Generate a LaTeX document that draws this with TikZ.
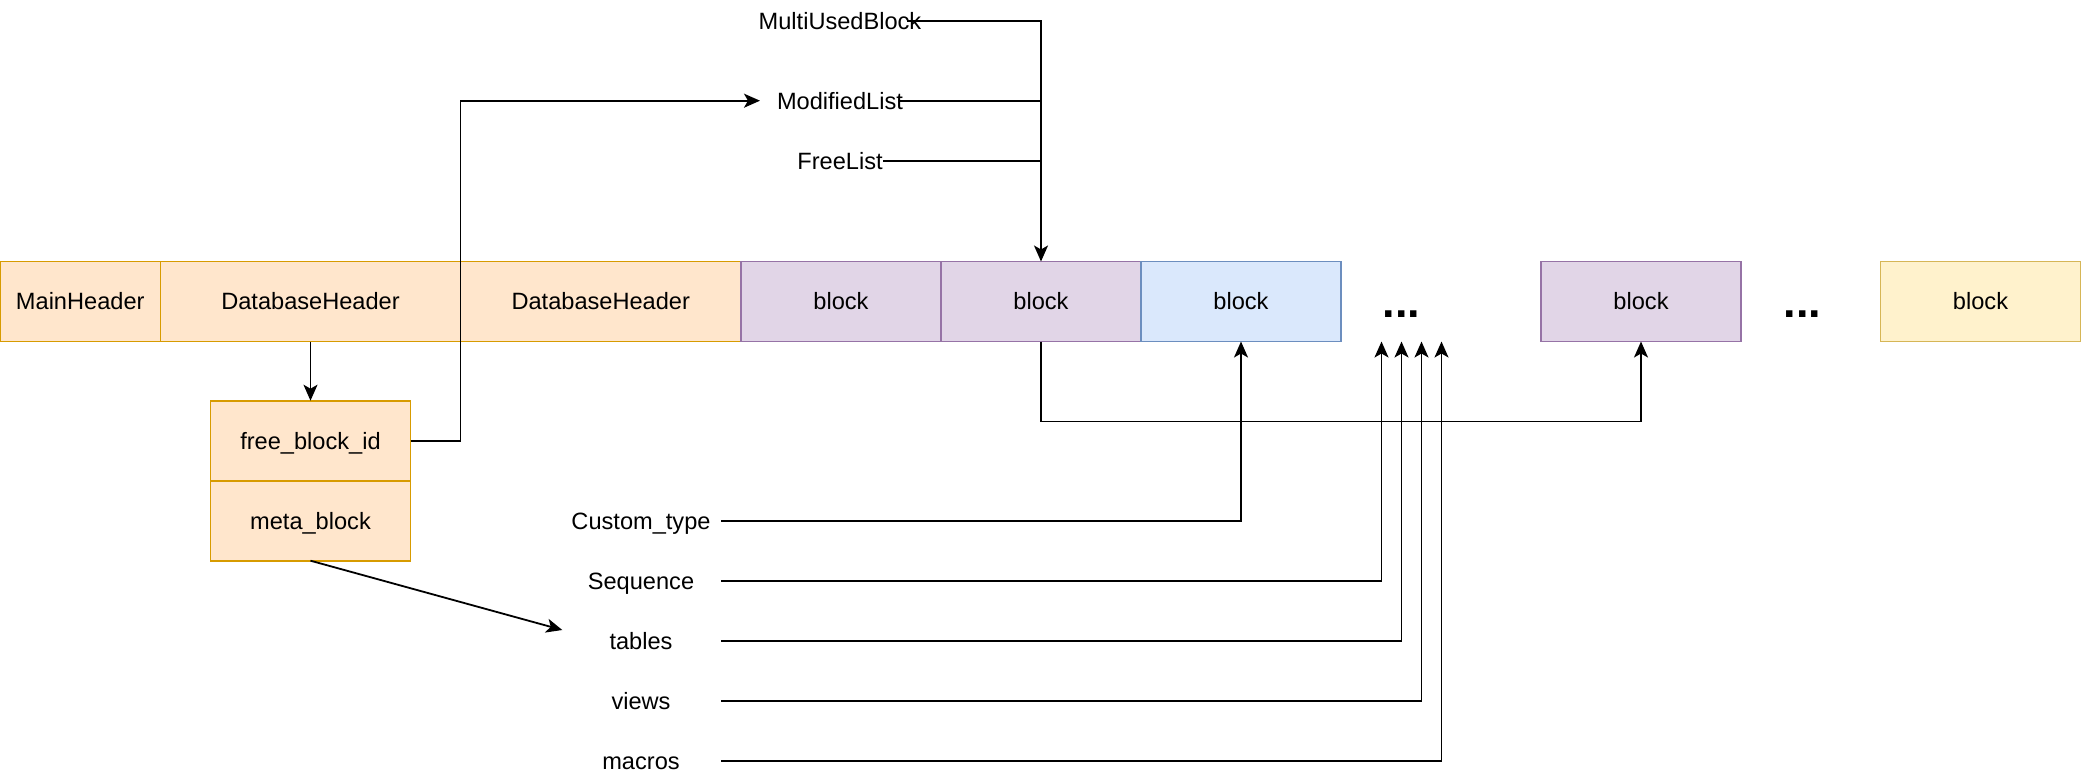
\documentclass[tikz,border=0pt]{standalone}
\usepackage{fontspec}
\setmainfont{Liberation Sans}
\usetikzlibrary{arrows.meta,calc}
\definecolor{orF}{HTML}{FFE6CC}
\definecolor{orD}{HTML}{D79B00}
\definecolor{puF}{HTML}{E1D5E7}
\definecolor{puD}{HTML}{9673A6}
\definecolor{blF}{HTML}{DAE8FC}
\definecolor{blD}{HTML}{6C8EBF}
\definecolor{yeF}{HTML}{FFF2CC}
\definecolor{yeD}{HTML}{D6B656}
\begin{document}
\begin{tikzpicture}[x=0.75pt,y=-0.75pt,
  font=\fontsize{17.7}{21}\selectfont,
  box/.style={draw, line width=1.3pt, inner sep=0pt, outer sep=0pt,
    minimum height=60pt, text height=12.67pt, text depth=0pt},
  orbox/.style={box, fill=orF, draw=orD},
  pubox/.style={box, fill=puF, draw=puD, minimum width=150pt},
  blbox/.style={box, fill=blF, draw=blD, minimum width=150pt},
  yebox/.style={box, fill=yeF, draw=yeD, minimum width=150pt},
  lbl/.style={inner sep=0pt, outer sep=0pt, minimum width=120pt,
    text height=12.67pt, text depth=0pt},
  dotsnode/.style={inner sep=0pt, outer sep=0pt, minimum width=150pt,
    minimum height=60pt, font=\fontsize{33.8}{40}\selectfont\bfseries,
    text height=24.2pt, text depth=0pt},
  ln/.style={draw, line width=1.35pt},
  arr/.style={ln, -{Stealth[length=12pt,width=10.5pt,inset=3pt]}}
]
\useasboundingbox (0,0) rectangle (2082,782);

% top row
\node[orbox, minimum width=120.4pt] (mh) at (80.25,301.5) {MainHeader};
\node[orbox, minimum width=225pt] (db1) at (310.5,301.5) {DatabaseHeader};
\node[orbox, minimum width=210.4pt] (db2) at (600.75,301.5) {DatabaseHeader};
\node[pubox] (b1) at (841,301.5) {block};
\node[pubox] (b2) at (1041,301.5) {block};
\node[blbox] (b3) at (1241,301.5) {block};
\node[dotsnode] (d1) at (1401.5,301.5) {...};
\node[pubox] (b4) at (1641,301.5) {block};
\node[dotsnode] (d2) at (1802.5,301.5) {...};
\node[yebox] (b5) at (1980.5,301.5) {block};

% header fields
\node[orbox, minimum width=150pt] (fb) at (310.5,440.7) {free\_block\_id};
\node[orbox, minimum width=150pt] (mb) at (310.5,520.7) {meta\_block};

% top labels
\node[lbl] (mub) at (840,20.7) {MultiUsedBlock};
\node[lbl] (ml) at (840,100.7) {ModifiedList};
\node[lbl] (fl) at (840,161) {FreeList};
\coordinate (mubR) at (906.7,20.7);
\coordinate (mlR) at (900,100.7);
\coordinate (flR) at (883,161);

% left labels
\node[lbl] (ct) at (641,520.7) {Custom\_type};
\node[lbl] (seq) at (641,580.7) {Sequence};
\node[lbl] (tab) at (641,640.7) {tables};
\node[lbl] (vw) at (641,700.7) {views};
\node[lbl] (mac) at (641,760.7) {macros};
\coordinate (tabIn) at (562.3,630);

% connectors
\draw[arr] (db1.south) -- (fb.north);
\draw[arr] (fb.east) -| (db1.east |- ml.west) -- (ml.west);
\draw[arr] (mubR) -| (b2.north);
\draw[ln] (mlR) -- (mlR -| b2.north);
\draw[ln] (flR) -- (flR -| b2.north);
\draw[arr] (b2.south) -- ++(0,80) -| (b4.south);
\draw[arr] (mb.south) -- (tabIn);
\draw[arr] (ct.east) -| (b3.south);
\draw[arr] (seq.east) -| ([xshift=-15pt]d1.south);
\draw[arr] (tab.east) -| (d1.south);
\draw[arr] (vw.east) -| ([xshift=15pt]d1.south);
\draw[arr] (mac.east) -| ([xshift=30pt]d1.south);
\end{tikzpicture}
\end{document}
